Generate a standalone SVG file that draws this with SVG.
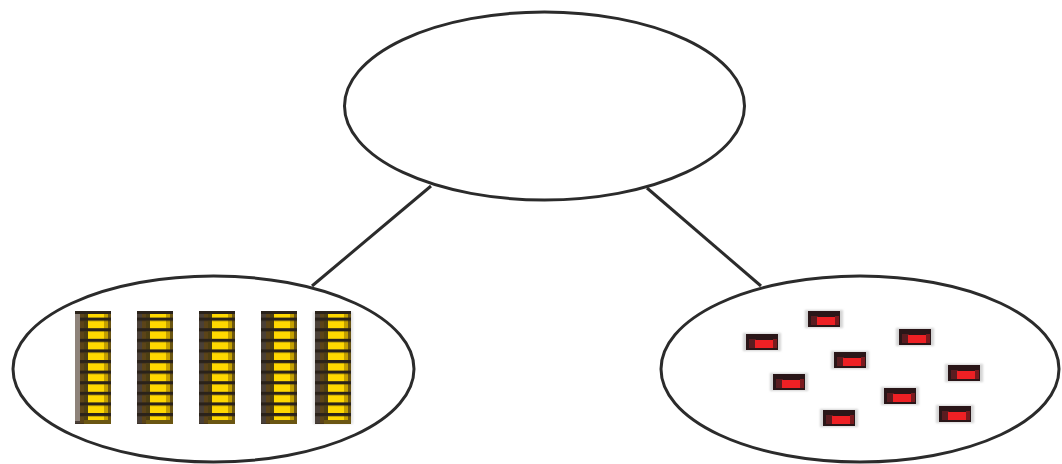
<svg xmlns="http://www.w3.org/2000/svg" xmlns:xlink="http://www.w3.org/1999/xlink" width="1062" height="464" viewBox="0 0 1062 464">
  <style>
    .oval { fill: #ffffff; stroke: #2b2b2b; stroke-width: 3; }
    .link { stroke: #2b2b2b; stroke-width: 3; fill: none; }
  </style>
  <defs>
    <!-- one stacked layer of a yellow column: dark seam on top, yellow face below -->
    <pattern id="layers" patternUnits="userSpaceOnUse" x="0" y="-4" width="36" height="10.6">
      <rect x="0" y="0" width="36" height="10.6" fill="#2a221a"/>
      <rect x="5" y="3.2" width="9" height="7.4" fill="#5c4418"/>
      <rect x="9" y="3.2" width="5" height="7.4" fill="#4d3f12"/>
      <rect x="13" y="3.2" width="16" height="7.4" fill="#ffd800"/>
      <rect x="29" y="3.2" width="4" height="7.4" fill="#c4a000"/>
      <rect x="33" y="3.2" width="3" height="7.4" fill="#6b5612"/>
      <rect x="0" y="3.2" width="5" height="7.4" fill="#4a4038"/>
    </pattern>
    <symbol id="column" overflow="visible">
      <rect x="0" y="0" width="36" height="113" fill="url(#layers)"/>
      <rect x="0" y="0" width="36" height="3" fill="#2a221a"/>
      <rect x="9" y="109" width="27" height="4" fill="#6b5612"/>
    </symbol>
    <filter id="halo" x="-30%" y="-60%" width="160%" height="220%">
      <feGaussianBlur stdDeviation="1.2"/>
    </filter>
    <!-- small red block with soft grey shadow -->
    <symbol id="block" overflow="visible">
      <rect x="-3" y="-1" width="38" height="18" fill="#b8b8b8" opacity="0.6" filter="url(#halo)"/>
      <rect x="0" y="0" width="32" height="16" fill="#2a1618"/>
      <rect x="3" y="5" width="7" height="9" fill="#5a1c20"/>
      <rect x="9" y="6" width="18" height="8" fill="#ee2024"/>
      <rect x="27" y="5" width="4" height="9" fill="#7a1a1e"/>
    </symbol>
  </defs>

  <g id="connectors">
    <line class="link" x1="431" y1="186" x2="312" y2="286"/>
    <line class="link" x1="647" y1="188" x2="761" y2="286"/>
  </g>

  <g id="top-node">
    <ellipse class="oval" cx="544.5" cy="106" rx="200" ry="94"/>
  </g>

  <g id="left-node">
    <ellipse class="oval" cx="213.5" cy="369" rx="200.5" ry="93"/>
    <use xlink:href="#column" x="75" y="311"/>
    <rect x="75" y="314" width="5" height="107" fill="#8e837a"/>
    <use xlink:href="#column" x="137" y="311"/>
    <use xlink:href="#column" x="199" y="311"/>
    <use xlink:href="#column" x="261" y="311"/>
    <rect x="313" y="312" width="40" height="112" fill="#d8d8d8" opacity="0.7" filter="url(#halo)"/>
    <use xlink:href="#column" x="315" y="311"/>
  </g>

  <g id="right-node">
    <ellipse class="oval" cx="860" cy="369" rx="199" ry="93"/>
    <use xlink:href="#block" x="808" y="311"/>
    <use xlink:href="#block" x="746" y="334"/>
    <use xlink:href="#block" x="899" y="329"/>
    <use xlink:href="#block" x="834" y="352"/>
    <use xlink:href="#block" x="948" y="365"/>
    <use xlink:href="#block" x="773" y="374"/>
    <use xlink:href="#block" x="884" y="388"/>
    <use xlink:href="#block" x="823" y="410"/>
    <use xlink:href="#block" x="939" y="406"/>
  </g>
</svg>
